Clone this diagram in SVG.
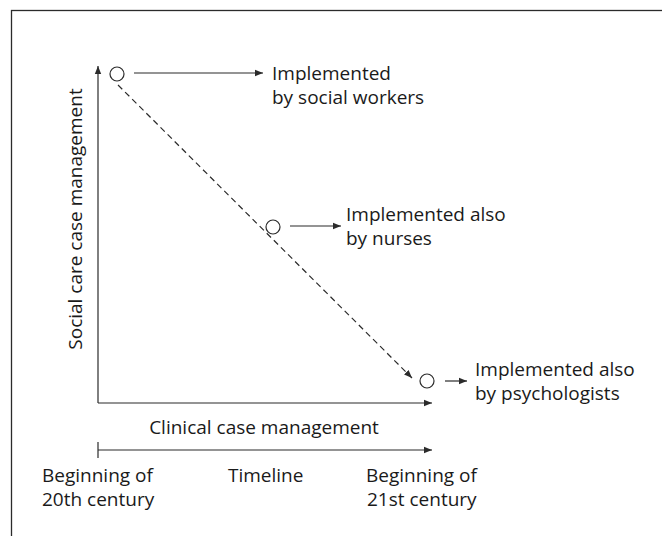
<svg xmlns="http://www.w3.org/2000/svg" width="662" height="536" viewBox="0 0 662 536">
  <style>
    text { font-family: "Open Sans", "Noto Sans", "DejaVu Sans", sans-serif; font-size: 19px; fill: #1a1a1a; }
    .line { stroke: #2b2b2b; stroke-width: 1.2; fill: none; }
    .dash { stroke: #2b2b2b; stroke-width: 1.2; fill: none; stroke-dasharray: 6 4; }
    .node { stroke: #2b2b2b; stroke-width: 1.2; fill: #fff; }
  </style>
  <defs>
    <marker id="arrow" viewBox="0 0 10 10" refX="10" refY="5" markerWidth="8" markerHeight="8" markerUnits="userSpaceOnUse" orient="auto">
      <path d="M0,1 L10,5 L0,9 Z" fill="#2b2b2b"/>
    </marker>
  </defs>
  <rect width="662" height="536" fill="#fff"/>
  <!-- frame (open towards the right and bottom edges) -->
  <rect x="11.5" y="10.5" width="700" height="600" fill="none" stroke="#2b2b2b" stroke-width="1.3"/>

  <g id="connectors">
    <!-- axes -->
    <path class="line" d="M98,403 L98,66" marker-end="url(#arrow)"/>
    <path class="line" d="M98,403 L432,403" marker-end="url(#arrow)"/>
    <!-- timeline -->
    <path class="line" d="M98,450 L432,450" marker-end="url(#arrow)"/>
    <path class="line" d="M98,442 L98,458"/>
    <!-- trend -->
    <path class="dash" d="M118,85 L412,378" marker-end="url(#arrow)"/>
    <!-- labels -->
    <path class="line" d="M134,73 L263,73" marker-end="url(#arrow)"/>
    <path class="line" d="M290,226 L341,226" marker-end="url(#arrow)"/>
    <path class="line" d="M445,381 L467,381" marker-end="url(#arrow)"/>
  </g>

  <g id="social-workers">
    <circle class="node" cx="117" cy="74" r="7"/>
    <text x="272" y="80">Implemented</text>
    <text x="272" y="104">by social workers</text>
  </g>
  <g id="nurses">
    <circle class="node" cx="273" cy="227" r="7"/>
    <text x="346" y="221">Implemented also</text>
    <text x="346" y="245">by nurses</text>
  </g>
  <g id="psychologists">
    <circle class="node" cx="427" cy="381" r="7"/>
    <text x="475" y="376">Implemented also</text>
    <text x="475" y="400">by psychologists</text>
  </g>

  <g id="axis-labels">
    <text x="264" y="434" text-anchor="middle">Clinical case management</text>
    <text transform="translate(82,219) rotate(-90)" text-anchor="middle">Social care case management</text>
  </g>
  <g id="timeline-labels">
    <text x="42" y="482">Beginning of</text>
    <text x="42" y="506">20th century</text>
    <text x="228" y="482">Timeline</text>
    <text x="366" y="482">Beginning of</text>
    <text x="367" y="506">21st century</text>
  </g>
</svg>
